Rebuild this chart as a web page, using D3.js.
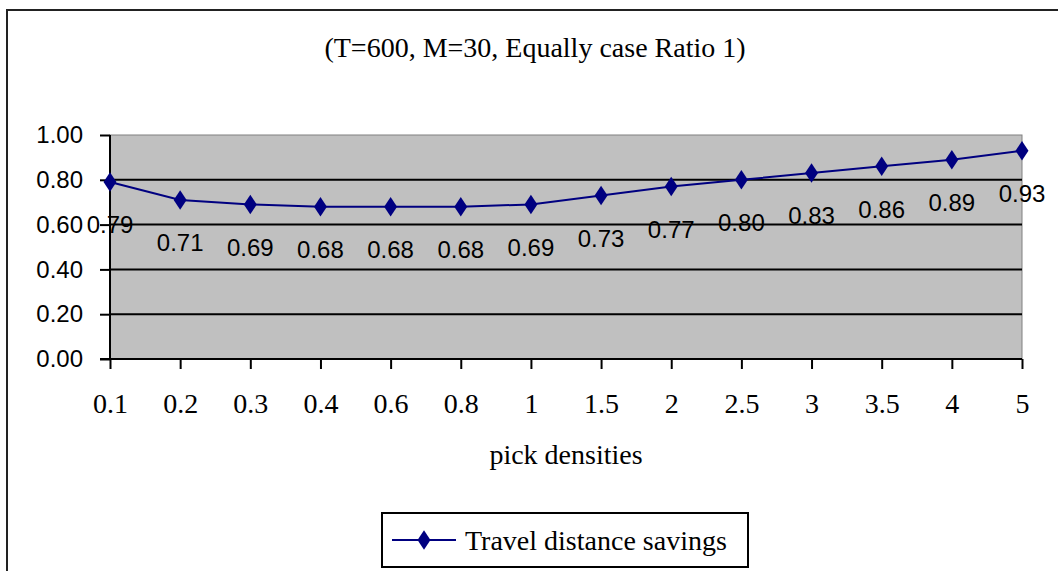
<!DOCTYPE html>
<html>
<head>
<meta charset="utf-8">
<script src="https://cdn.jsdelivr.net/npm/d3@7/dist/d3.min.js"></script>
<style>
  html, body { margin: 0; padding: 0; background: #fff; }
  svg { display: block; }
</style>
</head>
<body>
<svg id="chart" width="1058" height="571"></svg>
<script>
// ---- data ----
const categories = ["0.1", "0.2", "0.3", "0.4", "0.6", "0.8", "1", "1.5", "2", "2.5", "3", "3.5", "4", "5"];
const savings = [0.79, 0.71, 0.69, 0.68, 0.68, 0.68, 0.69, 0.73, 0.77, 0.80, 0.83, 0.86, 0.89, 0.93];
const yTicks = [0, 0.2, 0.4, 0.6, 0.8, 1.0];
const titleText = "(T=600, M=30, Equally case Ratio 1)";
const xAxisTitle = "pick densities";
const seriesName = "Travel distance savings";

// ---- layout ----
const svg = d3.select("#chart");
const plot = { left: 110, right: 1022, top: 135, bottom: 359 };
const navy = "#000080";
const serif = "'Liberation Serif', 'Times New Roman', serif";
const sans = "'Liberation Sans', Arial, sans-serif";

const x = d3.scalePoint().domain(categories).range([plot.left, plot.right]).padding(0);
const y = d3.scaleLinear().domain([0, 1]).range([plot.bottom, plot.top]);

// outer chart border
svg.append("rect")
  .attr("x", 7).attr("y", 10)
  .attr("width", 1100).attr("height", 600)
  .attr("fill", "#fff").attr("stroke", "#222").attr("stroke-width", 2);

// title
svg.append("text")
  .attr("x", 535).attr("y", 57)
  .attr("text-anchor", "middle")
  .attr("font-family", serif).attr("font-size", 28)
  .attr("fill", "#000")
  .text(titleText);

// plot area
svg.append("rect")
  .attr("x", plot.left).attr("y", plot.top)
  .attr("width", plot.right - plot.left).attr("height", plot.bottom - plot.top)
  .attr("fill", "#c0c0c0").attr("stroke", "#808080").attr("stroke-width", 1);

// gridlines
svg.append("g").selectAll("line")
  .data(yTicks.filter(d => d > 0 && d < 1))
  .join("line")
  .attr("x1", plot.left).attr("x2", plot.right)
  .attr("y1", d => y(d)).attr("y2", d => y(d))
  .attr("stroke", "#000").attr("stroke-width", 2);

// y axis
const yAxis = svg.append("g")
  .attr("transform", `translate(${plot.left},0)`)
  .call(d3.axisLeft(y).tickValues(yTicks).tickFormat(d3.format(".2f")).tickSize(10).tickPadding(17));
yAxis.select(".domain").attr("stroke", "#000").attr("stroke-width", 2).attr("d", `M0,${plot.top}V${plot.bottom}`);
yAxis.selectAll(".tick line").attr("stroke", "#000").attr("stroke-width", 2);
yAxis.selectAll(".tick text")
  .attr("font-family", sans).attr("font-size", 24).attr("fill", "#000");

// x axis
const xAxis = svg.append("g")
  .attr("transform", `translate(0,${plot.bottom})`)
  .call(d3.axisBottom(x).tickSize(10).tickPadding(24));
xAxis.select(".domain").attr("stroke", "#000").attr("stroke-width", 2).attr("d", `M${plot.left - 10},0H${plot.right}`);
xAxis.selectAll(".tick line").attr("stroke", "#000").attr("stroke-width", 2);
xAxis.selectAll(".tick text")
  .attr("font-family", serif).attr("font-size", 28).attr("fill", "#000");

// x axis title
svg.append("text")
  .attr("x", (plot.left + plot.right) / 2).attr("y", 464)
  .attr("text-anchor", "middle")
  .attr("font-family", serif).attr("font-size", 28)
  .attr("fill", "#000")
  .text(xAxisTitle);

// series line
const line = d3.line().x((d, i) => x(categories[i])).y(d => y(d));
svg.append("path")
  .datum(savings)
  .attr("d", line)
  .attr("fill", "none").attr("stroke", navy).attr("stroke-width", 2);

// markers
const diamond = d3.symbol().type(d3.symbolDiamond).size(110);
svg.append("g").selectAll("path")
  .data(savings)
  .join("path")
  .attr("d", diamond)
  .attr("transform", (d, i) => `translate(${x(categories[i])},${y(d)}) scale(1.15,1)`)
  .attr("fill", navy);

// data labels
svg.append("g").selectAll("text")
  .data(savings)
  .join("text")
  .attr("x", (d, i) => x(categories[i]))
  .attr("y", d => y(d) + 43)
  .attr("dy", "0.35em")
  .attr("text-anchor", "middle")
  .attr("font-family", sans).attr("font-size", 24)
  .attr("fill", "#000")
  .text(d => d3.format(".2f")(d));

// legend
const lg = svg.append("g");
lg.append("rect")
  .attr("x", 382).attr("y", 513).attr("width", 366).attr("height", 54)
  .attr("fill", "#fff").attr("stroke", "#000").attr("stroke-width", 2);
lg.append("line")
  .attr("x1", 392).attr("x2", 456).attr("y1", 540).attr("y2", 540)
  .attr("stroke", navy).attr("stroke-width", 2);
lg.append("path")
  .attr("d", diamond)
  .attr("transform", "translate(424,540) scale(1.15,1)")
  .attr("fill", navy);
lg.append("text")
  .attr("x", 465).attr("y", 550)
  .attr("font-family", serif).attr("font-size", 28)
  .attr("fill", "#000")
  .text(seriesName);
</script>
</body>
</html>
